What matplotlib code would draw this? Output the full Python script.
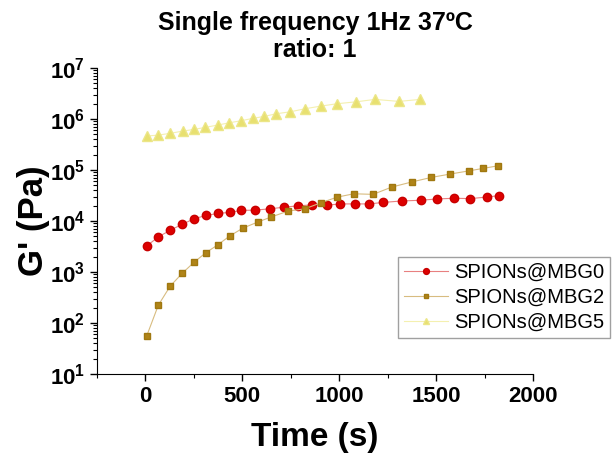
import math
import matplotlib
matplotlib.use('Agg')
import matplotlib.pyplot as plt
from matplotlib.ticker import LogLocator, FixedLocator, FuncFormatter

plt.rcParams['font.family'] = ['Liberation Sans', 'DejaVu Sans']
plt.rcParams['mathtext.fontset'] = 'custom'
plt.rcParams['mathtext.bf'] = 'Liberation Sans:bold'
plt.rcParams['mathtext.rm'] = 'Liberation Sans'

# SPIONs@MBG0
t_mbg0 = [7, 67, 128, 191, 252, 312, 374, 434, 495, 567, 641, 714, 787, 860,
          934, 1006, 1079, 1153, 1226, 1322, 1420, 1506, 1592, 1675, 1761, 1821]
g_mbg0 = [3250, 4900, 6600, 8700, 11100, 12900, 14100, 14800, 16200, 16400,
          17400, 18700, 19900, 20800, 20500, 21700, 21700, 21700, 23200, 24800,
          25600, 27200, 28000, 27600, 29600, 31500]

# SPIONs@MBG2
t_mbg2 = [7, 67, 128, 191, 252, 312, 374, 434, 503, 579, 650, 736, 822, 906,
          989, 1075, 1174, 1270, 1377, 1475, 1572, 1670, 1742, 1816]
g_mbg2 = [56, 225, 530, 955, 1570, 2400, 3430, 5080, 7290, 9550, 12100, 15700,
          17400, 22900, 29500, 34300, 33400, 46400, 58900, 71900, 83600, 96800,
          107900, 121000]

# SPIONs@MBG5
t_mbg5 = [7, 67, 128, 193, 252, 309, 372, 433, 493, 553, 614, 674, 748, 822,
          906, 989, 1087, 1184, 1308, 1417]
g_mbg5 = [465e3, 485e3, 525e3, 582e3, 628e3, 687e3, 762e3, 845e3, 927e3, 1.03e6,
          1.13e6, 1.27e6, 1.39e6, 1.59e6, 1.80e6, 2.0e6, 2.18e6, 2.43e6, 2.22e6,
          2.43e6]

x_ticks = [0, 500, 1000, 1500, 2000]

fig = plt.figure(figsize=(6.13, 4.63), dpi=100)
ax = fig.add_axes([0.158, 0.192, 0.712, 0.661])

ax.plot(t_mbg0, g_mbg0, color='#e88080', lw=0.8, marker='o', ms=6,
        mfc='#dd0000', mec='#c80000', label='SPIONs@MBG0')
ax.plot(t_mbg2, g_mbg2, color='#d8bc80', lw=0.8, marker='s', ms=5,
        mfc='#b08418', mec='#a07810', label='SPIONs@MBG2')
ax.plot(t_mbg5, g_mbg5, color='#f4f0b0', lw=0.8, marker='^', ms=6.5,
        mfc='#e8e070', mec='#ece688', label='SPIONs@MBG5')

ax.set_yscale('log')
ax.set_ylim(10, 1e7)
ax.set_xlim(-250, 2000)
ax.xaxis.set_major_locator(FixedLocator(x_ticks))
ax.xaxis.set_minor_locator(FixedLocator([-250, 250, 750, 1250, 1750]))
ax.yaxis.set_major_locator(LogLocator(base=10, numticks=10))
ax.yaxis.set_minor_locator(LogLocator(base=10, subs=range(2, 10), numticks=100))
ax.yaxis.set_major_formatter(FuncFormatter(
    lambda v, p: r'$\mathbf{10^{%d}}$' % round(math.log10(v))))

for s in ['top', 'right']:
    ax.spines[s].set_visible(False)
ax.tick_params(which='major', direction='out', length=5, width=1, labelsize=16)
ax.tick_params(which='minor', direction='out', length=3, width=0.8)
for lab in ax.get_xticklabels():
    lab.set_fontweight('bold')

ax.set_xlabel('Time (s)', fontsize=24, fontweight='bold', labelpad=11)
ax.set_ylabel("G' (Pa)", fontsize=25, fontweight='bold', labelpad=0)
ax.set_title('Single frequency 1Hz 37ºC\nratio: 1', fontsize=18,
             fontweight='bold', pad=8, linespacing=1.15)

fig.legend(loc='upper left', bbox_to_anchor=(0.649, 0.445), fontsize=14.5,
           frameon=True, fancybox=False, edgecolor='#888888', borderpad=0.3,
           labelspacing=0.3, handlelength=2.2, handletextpad=0.3,
           borderaxespad=0, markerscale=0.7)

fig.savefig('out.png', dpi=100)
